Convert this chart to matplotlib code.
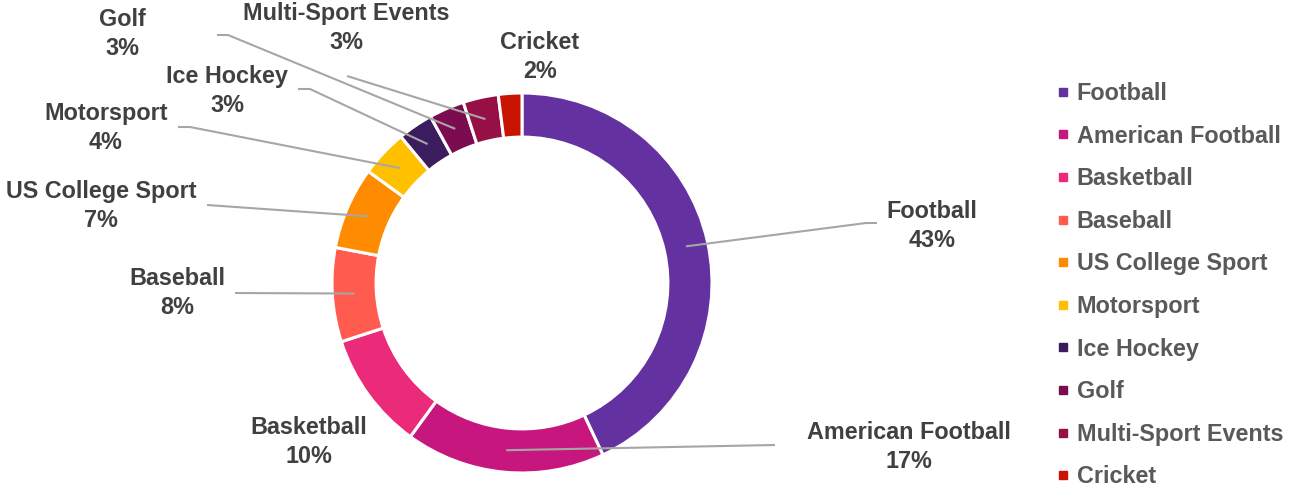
import matplotlib
matplotlib.use("Agg")
import matplotlib.pyplot as plt
from matplotlib.lines import Line2D
import numpy as np

plt.rcParams['font.family'] = ['Liberation Sans', 'DejaVu Sans']

# dane
sports = ["Football", "American Football", "Basketball", "Baseball", "US College Sport",
          "Motorsport", "Ice Hockey", "Golf", "Multi-Sport Events", "Cricket"]
shares = [43, 17, 10, 8, 7, 4, 3, 3, 3, 2]
colors = ["#6331A0", "#C8167F", "#EC2A7A", "#FF5B4F", "#FF8C00",
          "#FFC000", "#3B1C5E", "#7A0C4F", "#961046", "#C81400"]

# pozycje etykiet w pikselach (srodek bloku tekstu), od gory obrazka
label_px = [(932, 226), (909, 447), (309, 442), (177, 293), (101, 206),
            (106, 128), (227, 91), (122, 34), (346, 28), (540, 57)]
# koniec linii przy tekscie (None = brak linii) i dlugosc poziomego kawalka
line_px = [(877, 223), (775, 445), None, (235, 293), (207, 205),
           (178, 127), (298, 89), (217, 35), (347, 76), None]
elbow_px = [-11, 0, 0, 0, 0, 12, 12, 11, 0, 0]

W, H = 1289, 491
cx, cy, R = 522, 283, 190   # srodek i promien w pikselach


def px2d(x, y):
    return (x - cx) / R, (cy - y) / R


fig = plt.figure(figsize=(W / 100, H / 100), dpi=100)
ax = fig.add_axes([0, 0, 1, 1])

wedges, _ = ax.pie(shares, colors=colors, startangle=90, counterclock=False, radius=1.0,
                   wedgeprops=dict(width=0.232, edgecolor="white", linewidth=2.2))

ax.set_xlim(-cx / R, (W - cx) / R)
ax.set_ylim(-(H - cy) / R, cy / R)
ax.set_aspect("auto")
ax.axis("off")

r_mid = 1.0 - 0.232 / 2
for i, w in enumerate(wedges):
    ang = np.deg2rad((w.theta1 + w.theta2) / 2)
    wx, wy = r_mid * np.cos(ang), r_mid * np.sin(ang)
    if line_px[i] is not None:
        lx, ly = line_px[i]
        x0, y0 = px2d(lx, ly)
        x1, y1 = px2d(lx + elbow_px[i], ly)
        ax.plot([x0, x1, wx], [y0, y1, wy], color="#A6A6A6", lw=1.5, zorder=5,
                solid_capstyle="butt")
    tx, ty = px2d(*label_px[i])
    ax.text(tx, ty, f"{sports[i]}\n{shares[i]}%", ha="center", va="center",
            fontsize=16.8, fontweight="bold", color="#404040", linespacing=1.3)

handles = [Line2D([], [], marker="s", linestyle="none", markersize=6, color=c) for c in colors]
leg = ax.legend(handles, sports, loc="upper left", bbox_to_anchor=(1057 / W, 1 - 82 / H),
                frameon=False, fontsize=16.8, handlelength=0.5, handletextpad=0.35,
                labelspacing=0.84, borderaxespad=0, borderpad=0)
for t in leg.get_texts():
    t.set_color("#595959")
    t.set_fontweight("bold")

fig.savefig("out.png", dpi=100)
